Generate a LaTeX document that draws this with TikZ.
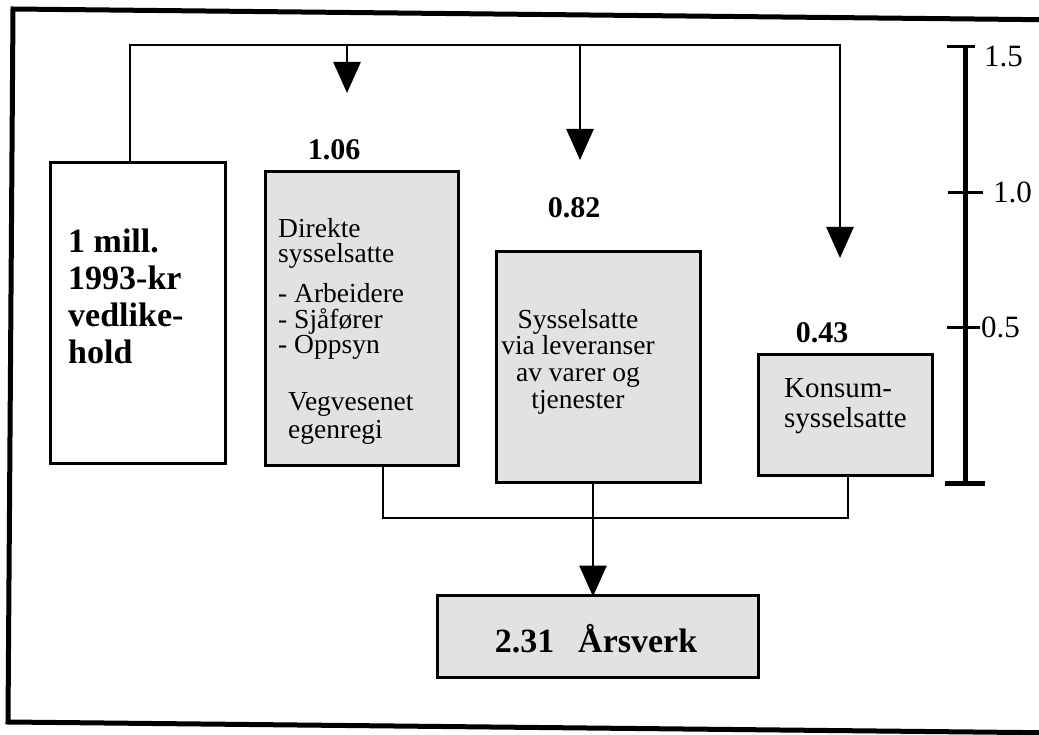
\documentclass[tikz,border=0pt]{standalone}
\usepackage{fontspec}
\setmainfont{Liberation Serif}
\usetikzlibrary{arrows.meta}
\definecolor{boxgray}{RGB}{226,226,226}
\tikzset{
  box/.style={draw, line width=3pt, inner sep=0pt, fill=white},
  graybox/.style={box, fill=boxgray},
  conn/.style={line width=2.7pt},
  arr/.style={conn, -{Triangle[length=31pt,width=27pt]}},
  txt/.style={inner sep=0pt, align=left, anchor=north west},
  bigbold/.style={font=\bfseries\fontsize{34}{37}\selectfont},
  val/.style={inner sep=0pt, anchor=base, font=\bfseries\fontsize{30}{32}\selectfont},
  scalelbl/.style={inner sep=0pt, anchor=west, font=\fontsize{31}{33}\selectfont},
  tick/.style={line width=3pt},
  bar/.style={line width=5pt}
}
\begin{document}
\lineskiplimit=-50pt
\begin{tikzpicture}[x=1pt,y=-1pt]
\useasboundingbox (0,0) rectangle (1039,735);
\clip (0,0) rectangle (1039,735);
\fill[white] (0,0) rectangle (1039,735);
% outer frame
\draw[line width=5pt] (1070,20) -- (13,9) -- (8,722) -- (1070,733);

% boxes
\node[box, minimum width=175pt, minimum height=300pt] (b1) at (137.5,313) {};
\node[graybox, minimum width=193pt, minimum height=293pt] (b2) at (361.5,318.5) {};
\node[graybox, minimum width=204pt, minimum height=230pt] (b3) at (598,367) {};
\node[graybox, minimum width=174pt, minimum height=120pt] (b4) at (845,415) {};
\node[graybox, minimum width=321pt, minimum height=82pt] (b5) at (597.5,636) {};

% texts
\node[txt, bigbold] (t1) at (68,229) {1 mill.\\1993-kr\\vedlike-\\hold};
\node[txt, font=\fontsize{27.5}{25.5}\selectfont] (t2) at (278,218) {Direkte\\sysselsatte\\[14.5pt]- Arbeidere\\- Sjåfører\\- Oppsyn\\[31pt]\hspace*{10pt}Vegvesenet\\[2.5pt]\hspace*{10pt}egenregi};
\node[inner sep=0pt, align=center, anchor=north, font=\fontsize{27.5}{26.7}\selectfont] (t3) at (578,309) {Sysselsatte\\via leveranser\\av varer og\\tjenester};
\node[txt, font=\fontsize{29}{30}\selectfont] (t4) at (784,378.8) {Konsum-\\sysselsatte};
\node[inner sep=0pt, anchor=base, bigbold] (t5) at (596,652) {2.31\hspace{24pt}Årsverk};

% values
\node[val] (v1) at (334,160) {1.06};
\node[val] (v2) at (574,218) {0.82};
\node[val] (v3) at (822,343) {0.43};

% top connectors
\coordinate (topL) at (130,45);
\coordinate (topR) at (840,45);
\coordinate (a1) at (347,93);
\coordinate (a2) at (580,160);
\coordinate (a3) at (840,258);
\draw[arr] (b1.north -| topL) -- (topL) -- (topR) -- (a3);
\draw[arr] (topL -| a1) -- (a1);
\draw[arr] (topL -| a2) -- (a2);

% bottom connectors
\coordinate (jl) at (383,518);
\coordinate (jr) at (848,518);
\coordinate (jm) at (593,518);
\draw[conn] (b2.south -| jl) -- (jl) -- (jr) -- (b4.south -| jr);
\draw[arr] (b3.south -| jm) -- ([yshift=-3pt]b5.north -| jm);

% scale
\coordinate (sTop) at (965,47);
\coordinate (sBot) at (965,483);
\draw[bar] (sTop) -- (sBot);
\draw[tick] (947,47) -- (975,47);
\draw[tick] (948,193) -- (983,193);
\draw[tick] (947,328) -- (980,328);
\draw[bar] (945,483) -- (985,483);
\node[scalelbl] (s15) at (984,56.5) {1.5};
\node[scalelbl] (s10) at (993,192.5) {1.0};
\node[scalelbl] (s05) at (981,327.5) {0.5};
\end{tikzpicture}
\end{document}
